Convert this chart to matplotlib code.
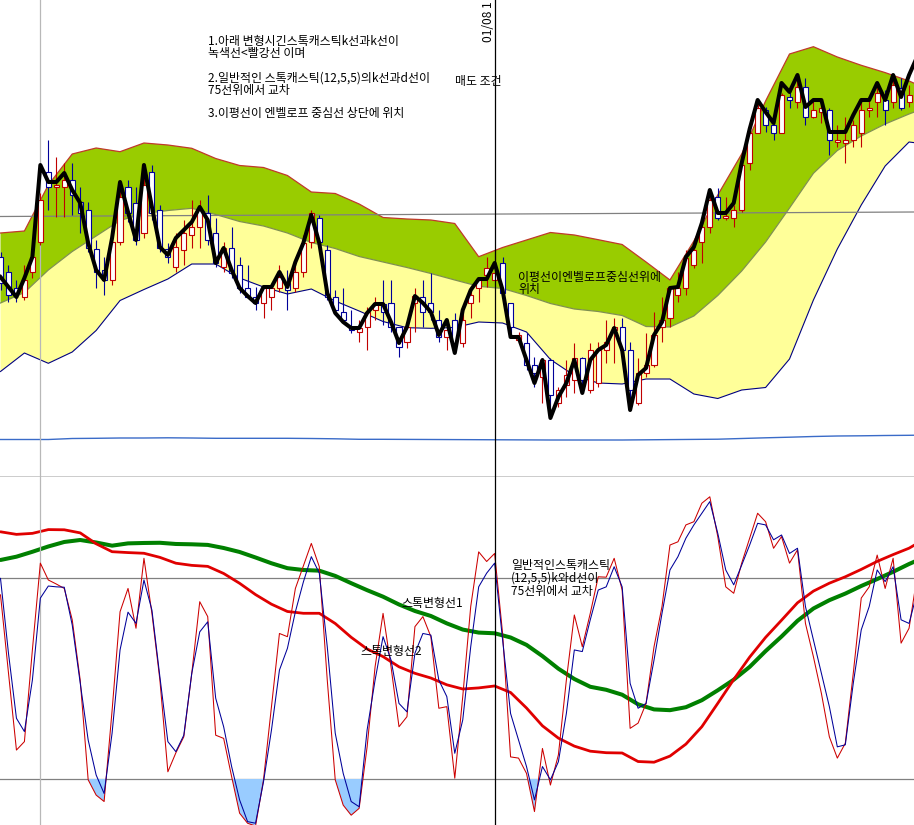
import numpy as np
import matplotlib
matplotlib.use("Agg")
import matplotlib.pyplot as plt

plt.rcParams['font.family'] = ['Noto Sans CJK KR', 'DejaVu Sans']

# ---- price panel data (bar index, price units) ----
bars = np.arange(116)

ma_line = [203, 193, 183, 202, 223, 315, 298, 298, 307, 290,
           277, 237, 210, 200, 242, 298, 268, 240, 315, 273,
           233, 225, 242, 250, 258, 273, 260, 217, 232, 210,
           192, 184, 177, 193, 193, 208, 193, 218, 237, 265,
           237, 187, 167, 158, 152, 152, 167, 176, 176, 158,
           137, 153, 184, 177, 168, 145, 160, 127, 170, 190,
           201, 201, 217, 190, 143, 143, 120, 97, 120, 62,
           83, 97, 120, 87, 120, 130, 135, 152, 130, 70,
           105, 112, 145, 158, 192, 193, 223, 233, 257, 290,
           267, 267, 277, 317, 351, 380, 368, 357, 397, 388,
           405, 373, 380, 380, 348, 348, 348, 365, 380, 380,
           397, 380, 405, 383, 405, 423]

opens = [223, 208, 192, 183, 208, 238, 308, 293, 293, 300,
         278, 270, 231, 210, 200, 238, 293, 277, 247, 308,
         270, 231, 213, 230, 245, 253, 267, 247, 213, 232,
         215, 192, 183, 177, 183, 192, 197, 192, 208, 238,
         262, 230, 183, 168, 153, 148, 153, 170, 176, 177,
         153, 138, 177, 183, 177, 160, 143, 160, 137, 177,
         192, 205, 200, 217, 177, 140, 137, 115, 103, 120,
         77, 95, 100, 122, 90, 97, 130, 150, 153, 130,
         77, 107, 115, 153, 162, 185, 192, 215, 238, 253,
         283, 262, 262, 270, 317, 347, 370, 355, 347, 383,
         378, 393, 363, 368, 370, 338, 337, 340, 347, 370,
         378, 380, 378, 392, 378]
highs = [228, 215, 200, 215, 230, 287, 340, 323, 317, 317,
         293, 278, 240, 223, 245, 300, 300, 293, 305, 315,
         275, 237, 247, 260, 280, 280, 285, 262, 238, 253,
         223, 215, 193, 193, 193, 215, 210, 218, 245, 270,
         265, 235, 190, 192, 170, 160, 173, 183, 200, 200,
         153, 153, 192, 200, 207, 170, 160, 167, 167, 190,
         202, 223, 230, 223, 177, 148, 147, 123, 122, 122,
         93, 120, 137, 123, 137, 138, 160, 162, 162, 138,
         122, 147, 168, 183, 193, 208, 230, 235, 257, 290,
         292, 283, 275, 320, 353, 380, 373, 358, 387, 393,
         405, 402, 380, 380, 372, 355, 363, 360, 380, 380,
         397, 390, 405, 402, 395]
lows = [190, 178, 178, 180, 202, 235, 270, 263, 263, 265,
        247, 228, 192, 185, 195, 235, 258, 235, 242, 260,
        228, 217, 208, 215, 232, 232, 235, 213, 208, 202,
        187, 183, 170, 162, 170, 188, 170, 188, 203, 232,
        232, 180, 165, 157, 147, 138, 130, 160, 155, 148,
        123, 132, 148, 153, 160, 138, 130, 127, 133, 162,
        178, 193, 200, 183, 147, 137, 110, 93, 77, 67,
        73, 83, 87, 90, 87, 93, 117, 117, 127, 77,
        75, 103, 113, 138, 153, 178, 185, 212, 217, 247,
        260, 260, 253, 268, 310, 347, 348, 340, 347, 372,
        372, 355, 362, 357, 325, 333, 317, 333, 333, 363,
        363, 355, 372, 370, 373]
closes = [197, 185, 187, 200, 223, 280, 293, 295, 300, 285,
          267, 232, 208, 200, 238, 283, 267, 240, 295, 267,
          232, 223, 233, 247, 253, 270, 240, 217, 232, 207,
          192, 183, 177, 192, 192, 203, 190, 208, 237, 267,
          238, 183, 170, 160, 150, 152, 168, 177, 168, 153,
          133, 153, 184, 168, 168, 143, 150, 137, 160, 185,
          200, 212, 207, 187, 153, 145, 115, 107, 120, 85,
          90, 105, 122, 100, 130, 130, 138, 153, 130, 90,
          107, 115, 145, 160, 192, 192, 222, 230, 253, 280,
          262, 264, 270, 315, 347, 372, 355, 347, 385, 380,
          393, 363, 370, 372, 340, 340, 340, 355, 370, 372,
          387, 370, 395, 372, 385]

# envelope, sampled every 3 bars
env_bars = list(range(0, 115, 3)) + [115]
env_up = [247, 249, 295, 326, 332, 328.3, 337, 335, 331.7, 321.5,
          314.5, 312.5, 304.5, 288, 286.5, 276, 262.5, 261, 260, 256.5,
          223.3, 232.5, 240, 247.5, 245, 240.3, 235.5, 218, 200, 239,
          285, 326, 379, 426, 433.3, 423, 414.7, 407.4, 399, 395.5]
env_mid = [177, 187.5, 210, 228.5, 244, 259.5, 266.5, 269.5, 271.7, 265.5,
           258.5, 254, 247, 237.5, 231.5, 223.5, 218, 212.5, 206.5, 200,
           193.7, 191.5, 184.5, 176.5, 171, 168.5, 164.5, 153.5, 153, 164,
           184.5, 209, 238, 272, 306.7, 329.5, 344, 356, 366, 369]
env_low = [108.5, 127, 116.7, 128, 149.5, 179.5, 190.5, 201, 216, 216,
           202, 193, 186, 191, 179, 169, 158.5, 152.3, 151.7, 152.5,
           158, 157, 148, 120.5, 104.5, 97, 96, 101, 101, 86,
           81.5, 90, 92.5, 121, 180, 231, 275, 314, 338, 337]
long_ma = [40.5, 40.5, 40.5, 41.5, 41.7, 42, 42, 42.2, 42, 41.7,
           41.7, 41.7, 41.7, 41.5, 41.2, 40.7, 40.7, 40.6, 40.5, 40.4,
           40.3, 40.2, 40.1, 40, 40, 40, 40, 40.2, 40.4, 40.6,
           40.8, 41.5, 42.2, 42.8, 43.5, 44, 44.2, 44.5, 44.7, 44.8]
guide_level = [263.5, 268]

# ---- stochastic panel data ----
stoch_k = [70.8, 51.4, 32.2, 34.3, 57.1, 78.7, 74.5, 73.5, 72.4, 64.6,
           49.6, 24.8, 21.0, 19.4, 42.0, 66.6, 72.4, 62.5, 79.9, 66.2,
           49.6, 26.8, 31.5, 35.5, 51.3, 69.1, 65.4, 35.9, 35.1, 25.6,
           16.5, 14.0, 13.3, 24.8, 43.0, 61.2, 60.4, 72.4, 78.0, 83.6,
           77.8, 49.6, 24.8, 18.5, 16.0, 17.7, 33.0, 52.9, 66.2, 52.9,
           38.0, 40.5, 62.9, 65.4, 60.4, 42.6, 43.0, 25.2, 45.5, 67.9,
           81.5, 79.1, 81.1, 61.2, 30.5, 30.2, 26.4, 16.9, 32.6, 23.5,
           31.0, 49.6, 65.8, 57.9, 66.2, 75.3, 75.2, 79.9, 72.0, 37.6,
           38.9, 43.8, 57.9, 67.9, 83.2, 84.0, 88.2, 89.0, 93.6, 95.2,
           85.3, 72.8, 71.2, 78.7, 84.9, 91.1, 89.0, 82.4, 85.3, 78.7,
           82.0, 63.7, 55.4, 46.3, 35.5, 30.2, 33.9, 51.3, 70.0, 72.8,
           80.7, 72.4, 79.9, 58.8, 62.5, 75.3]
stoch_d = [74.9, 56.3, 40.1, 36.8, 49.6, 70.0, 73.0, 72.8, 72.7, 63.3,
           48.9, 34.7, 26.0, 21.4, 36.4, 57.1, 66.5, 63.7, 74.5, 67.0,
           50.4, 34.3, 31.8, 35.9, 51.3, 61.6, 64.1, 45.1, 38.0, 28.1,
           19.8, 14.4, 14.0, 24.3, 37.2, 52.1, 57.5, 66.6, 74.0, 80.3,
           76.2, 57.9, 36.4, 26.4, 19.4, 18.1, 37.2, 49.6, 60.4, 54.6,
           43.8, 41.7, 56.3, 61.2, 60.8, 49.6, 45.5, 31.4, 39.7, 57.9,
           72.8, 76.2, 78.7, 59.6, 41.3, 34.7, 28.1, 19.8, 28.1, 24.8,
           29.3, 41.3, 57.1, 56.7, 64.6, 72.0, 72.8, 77.8, 72.8, 48.8,
           42.6, 43.8, 54.6, 66.2, 77.0, 80.3, 84.9, 88.2, 91.1, 94.0,
           86.1, 77.0, 73.3, 78.2, 83.2, 88.6, 88.2, 84.5, 85.7, 81.1,
           82.4, 67.9, 59.6, 51.3, 43.0, 33.0, 33.5, 48.8, 62.1, 67.9,
           77.0, 74.1, 77.8, 64.6, 63.7, 71.3]

# modified stochastic lines, sampled every 2 bars
slow_bars = list(range(0, 115, 2)) + [115]
slow1 = [79.48, 80.30, 81.52, 82.84, 83.96, 84.45, 83.83, 83.04, 83.61, 83.71,
         83.76, 83.46, 83.38, 83.23, 82.46, 81.47, 80.10, 78.66, 77.44, 76.99,
         76.82, 75.52, 73.71, 71.97, 70.35, 68.41, 66.79, 65.55, 63.71, 62.17,
         61.42, 61.25, 60.20, 58.36, 55.57, 52.44, 49.88, 47.94, 47.19, 45.97,
         43.58, 42.31, 42.12, 42.86, 44.60, 47.07, 49.70, 52.89, 56.82, 60.45,
         64.35, 67.41, 69.48, 71.12, 73.01, 74.73, 76.54, 78.48, 79.35]
slow2 = [86.49, 85.85, 86.10, 87.04, 86.99, 86.22, 83.51, 81.54, 81.32, 81.15,
         80.13, 78.68, 78.14, 77.89, 76.12, 73.68, 70.87, 68.48, 66.67, 66.22,
         66.22, 63.68, 60.25, 57.34, 55.45, 52.91, 51.29, 50.12, 48.43, 47.39,
         47.66, 48.14, 46.52, 42.66, 38.23, 35.17, 33.18, 31.92, 31.54, 31.47,
         29.35, 29.18, 30.70, 33.68, 38.01, 43.83, 49.75, 55.32, 60.23, 64.50,
         68.83, 71.74, 73.71, 75.30, 77.14, 79.13, 80.82, 82.41, 83.56]

marker_bar = 62
grid_bar = 5

W, H = 914, 825
fig = plt.figure(figsize=(W / 100, H / 100), dpi=100)
ax1 = fig.add_axes([0, 348 / H, 1, 477 / H])
ax2 = fig.add_axes([0, 0, 1, 348 / H])

xlo, xhi = -0.063, 114.62
for ax in (ax1, ax2):
    ax.set_xlim(xlo, xhi)
    ax.set_xticks([])
    ax.set_yticks([])
    for s in ax.spines.values():
        s.set_visible(False)
ax1.spines['bottom'].set_visible(True)
ax1.spines['bottom'].set_color('black')
ax1.spines['bottom'].set_linewidth(1.0)
ax1.set_ylim(3, 480)
ax2.set_ylim(13.56, 100.12)

# envelope bands
ax1.fill_between(env_bars, env_mid, env_up, color='#99cc00', lw=0, zorder=1)
ax1.fill_between(env_bars, env_low, env_mid, color='#ffff99', lw=0, zorder=1)
ax1.plot(env_bars, env_up, color='#c0392b', lw=0.9, zorder=2)
ax1.plot(env_bars, env_mid, color='#7f9050', lw=0.9, zorder=2)
ax1.plot(env_bars, env_low, color='#000080', lw=0.8, zorder=2)
ax1.plot(env_bars, long_ma, color='#3a6bc8', lw=1.0, zorder=2)
ax1.plot([xlo, xhi], guide_level, color='#808080', lw=0.9, zorder=2.5)

# candles
o = np.array(opens, float)
c = np.array(closes, float)
cols = ['#c00000' if cc >= oo else '#000099' for oo, cc in zip(o, c)]
cb = bars[:len(o)]
ax1.vlines(cb, lows, highs, colors=cols, lw=0.8, zorder=3)
ax1.bar(cb, np.maximum(np.abs(c - o), 0.8), bottom=np.minimum(o, c), width=0.64,
        facecolor='white', edgecolor=cols, lw=0.8, zorder=4)

ax1.plot(bars, ma_line, color='black', lw=2.9, zorder=5, solid_joinstyle='round')

for ax in (ax1, ax2):
    ax.axvline(grid_bar, color='#b8b8b8', lw=0.9, zorder=2.6)
    ax.axvline(marker_bar, color='black', lw=0.9, zorder=6)

# stochastic panel
k = np.array(stoch_k)
ax2.axhline(75, color='#808080', lw=0.9, zorder=1)
ax2.axhline(25, color='#808080', lw=0.9, zorder=1)
ax2.fill_between(bars, k, 25, where=k < 25, interpolate=True, color='#99ccff', lw=0, zorder=1.5)
ax2.plot(slow_bars, slow1, color='#008000', lw=2.9, zorder=2, solid_capstyle='round')
ax2.plot(slow_bars, slow2, color='#e00000', lw=2.0, zorder=2, solid_capstyle='round')
ax2.plot(bars, stoch_k, color='#cc0000', lw=0.75, zorder=3)
ax2.plot(bars, stoch_d, color='#000099', lw=0.75, zorder=3)


def put(px, py, s, **kw):
    fig.text(px / W, 1 - py / H, s, fontsize=8.6, va='center', ha='left',
             linespacing=0.98, **kw)


put(208, 47.5, "1.아래 변형시긴스톡캐스틱k선과k선이\n녹색선<빨강선 이며")
put(208, 84, "2.일반적인 스톡캐스틱(12,5,5)의k선과d선이\n75선위에서 교차")
put(208, 113, "3.이평선이 엔벨로프 중심선 상단에 위치")
put(455, 81, "매도 조건")
put(518, 283.5, "이평선이엔벨로프중심선위에\n위치")
put(511, 578.5, "일반적인스톡캐스틱\n(12,5,5)k와d선이\n75선위에서 교차")
put(401, 604, "스톡변형선1")
put(360, 651, "스톡변형선2")
fig.text(488 / W, 1 - 42 / H, "01/08 1", fontsize=8.6, rotation=90,
         ha='center', va='bottom')

fig.savefig("out.png", dpi=100)
